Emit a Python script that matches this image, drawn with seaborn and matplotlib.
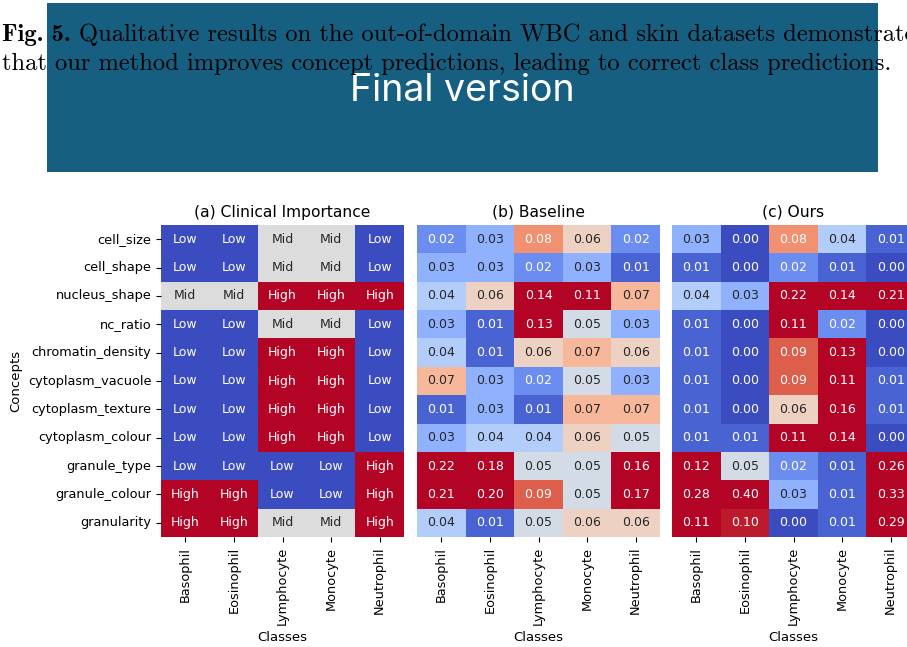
import numpy as np
import pandas as pd
import matplotlib
matplotlib.use("Agg")
import matplotlib.pyplot as plt
from matplotlib.patches import Rectangle
import seaborn as sns

concepts = ["cell_size", "cell_shape", "nucleus_shape", "nc_ratio", "chromatin_density",
            "cytoplasm_vacuole", "cytoplasm_texture", "cytoplasm_colour", "granule_type",
            "granule_colour", "granularity"]
classes = ["Basophil", "Eosinophil", "Lymphocyte", "Monocyte", "Neutrophil"]

clinical = [
    ["Low", "Low", "Mid", "Mid", "Low"],
    ["Low", "Low", "Mid", "Mid", "Low"],
    ["Mid", "Mid", "High", "High", "High"],
    ["Low", "Low", "Mid", "Mid", "Low"],
    ["Low", "Low", "High", "High", "Low"],
    ["Low", "Low", "High", "High", "Low"],
    ["Low", "Low", "High", "High", "Low"],
    ["Low", "Low", "High", "High", "Low"],
    ["Low", "Low", "Low", "Low", "High"],
    ["High", "High", "Low", "Low", "High"],
    ["High", "High", "Mid", "Mid", "High"],
]

baseline = [
    [0.02, 0.03, 0.08, 0.06, 0.02],
    [0.03, 0.03, 0.02, 0.03, 0.01],
    [0.04, 0.06, 0.14, 0.11, 0.07],
    [0.03, 0.01, 0.13, 0.05, 0.03],
    [0.04, 0.01, 0.06, 0.07, 0.06],
    [0.07, 0.03, 0.02, 0.05, 0.03],
    [0.01, 0.03, 0.01, 0.07, 0.07],
    [0.03, 0.04, 0.04, 0.06, 0.05],
    [0.22, 0.18, 0.05, 0.05, 0.16],
    [0.21, 0.20, 0.09, 0.05, 0.17],
    [0.04, 0.01, 0.05, 0.06, 0.06],
]

ours = [
    [0.03, 0.00, 0.08, 0.04, 0.01],
    [0.01, 0.00, 0.02, 0.01, 0.00],
    [0.04, 0.03, 0.22, 0.14, 0.21],
    [0.01, 0.00, 0.11, 0.02, 0.00],
    [0.01, 0.00, 0.09, 0.13, 0.00],
    [0.01, 0.00, 0.09, 0.11, 0.01],
    [0.01, 0.00, 0.06, 0.16, 0.01],
    [0.01, 0.01, 0.11, 0.14, 0.00],
    [0.12, 0.05, 0.02, 0.01, 0.26],
    [0.28, 0.40, 0.03, 0.01, 0.33],
    [0.11, 0.10, 0.00, 0.01, 0.29],
]

titles = ["(a) Clinical Importance", "(b) Baseline", "(c) Ours"]
level_map = {"Low": 0, "Mid": 1, "High": 2}

W, H = 907, 647
fig = plt.figure(figsize=(W / 100, H / 100), dpi=100)

# Banner box and caption
fig.add_artist(Rectangle((47 / W, 1 - 172 / H), (878 - 47) / W, (172 - 3) / H,
                         transform=fig.transFigure, facecolor="#175f81",
                         edgecolor="none", zorder=1))
cap_size = 17.7
renderer = fig.canvas.get_renderer()
bold = fig.text(2 / W, 1 - 41 / H, "Fig. 5.", fontfamily="cmb10", fontsize=cap_size,
                color="black", ha="left", va="baseline", zorder=3)
bb = bold.get_window_extent(renderer=renderer)
fig.text((bb.x1 + 8) / W, 1 - 41 / H,
         "Qualitative results on the out-of-domain WBC and skin datasets demonstrate",
         fontfamily="cmr10", fontsize=cap_size, color="black", ha="left", va="baseline", zorder=3)
fig.text(2 / W, 1 - 70 / H,
         "that our method improves concept predictions, leading to correct class predictions.",
         fontfamily="cmr10", fontsize=cap_size, color="black", ha="left", va="baseline", zorder=3)
fig.text(462 / W, 1 - 101 / H, "Final version", fontfamily="Inter", fontsize=27,
         color="white", ha="center", va="baseline", zorder=2)

clin_df = pd.DataFrame([[level_map[v] for v in row] for row in clinical],
                       index=concepts, columns=classes)
base_df = pd.DataFrame(baseline, index=concepts, columns=classes)
ours_df = pd.DataFrame(ours, index=concepts, columns=classes)

lefts = [161, 417, 672]
axw = 243 / W
bottom = 1 - 537 / H
axh = 312 / H
axes = [fig.add_axes([l / W, bottom, axw, axh]) for l in lefts]

sns.heatmap(clin_df, ax=axes[0], cmap="coolwarm", vmin=0, vmax=2, cbar=False,
            annot=np.array(clinical), fmt="", annot_kws={"size": 9},
            xticklabels=classes, yticklabels=concepts)
sns.heatmap(base_df, ax=axes[1], cmap="coolwarm", vmin=0.005, vmax=0.102, cbar=False,
            annot=True, fmt=".2f", annot_kws={"size": 9},
            xticklabels=classes, yticklabels=False)
sns.heatmap(ours_df, ax=axes[2], cmap="coolwarm", vmin=0.005, vmax=0.102, cbar=False,
            annot=True, fmt=".2f", annot_kws={"size": 9},
            xticklabels=classes, yticklabels=False)

for i, ax in enumerate(axes):
    ax.set_title(titles[i], fontsize=11.2)
    ax.set_xlabel("Classes", fontsize=9.5)
    ax.tick_params(axis="x", labelsize=9.3, rotation=90)
    ax.tick_params(axis="y", labelsize=9.3, rotation=0)
axes[0].set_ylabel("Concepts", fontsize=9.5)
axes[1].set_ylabel("")
axes[2].set_ylabel("")

fig.savefig("out.png", dpi=100)
